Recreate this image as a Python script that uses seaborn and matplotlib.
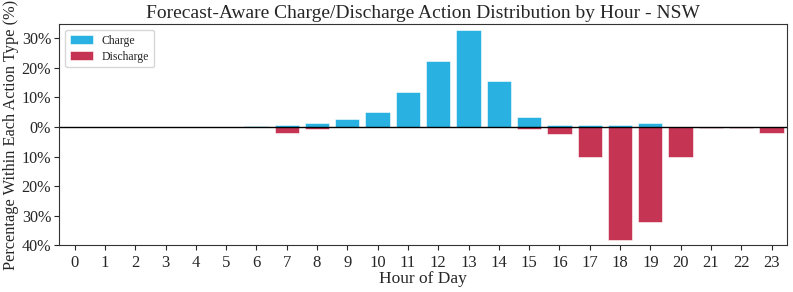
import numpy as np
import pandas as pd
import matplotlib
matplotlib.use("Agg")
import matplotlib.pyplot as plt
import seaborn as sns
from matplotlib.ticker import FuncFormatter

# hourly share (%) of each action type
hours = list(range(24))
charge_pct = [0, 0, 0, 0, 0, 0, 0.4, 0.8, 1.35, 2.7, 5.2, 11.9, 22.3, 32.6,
              15.5, 3.4, 0.8, 0.8, 0.8, 1.45, 0, 0, 0, 0]
discharge_pct = [0, 0, 0, 0, 0, 0, 0, 2.0, 0.6, 0, 0, 0, 0, 0,
                 0, 0.8, 2.5, 10.3, 38.2, 32.3, 10.3, 0.5, 0.5, 2.1]

df = pd.DataFrame({"hour": hours, "charge": charge_pct,
                   "discharge": [-v for v in discharge_pct]})

sns.set_style("ticks")
plt.rcParams["font.family"] = ["Liberation Serif", "DejaVu Serif"]

fig, ax = plt.subplots(figsize=(7.93, 2.92), dpi=100)

sns.barplot(data=df, x="hour", y="charge", color="#22afe0", saturation=1,
            edgecolor="white", linewidth=0.4, alpha=0.97, label="Charge", ax=ax)
sns.barplot(data=df, x="hour", y="discharge", color="#c42d4d", saturation=1,
            edgecolor="white", linewidth=0.4, alpha=0.97, label="Discharge", ax=ax)

ax.axhline(0, color="black", linewidth=1)
ax.set_ylim(-40, 34.8)
ax.set_yticks(np.arange(-40, 31, 10))
ax.yaxis.set_major_formatter(FuncFormatter(lambda v, p: f"{abs(v):.0f}%"))
ax.set_xlim(-0.5, 23.5)

ax.set_title("Forecast-Aware Charge/Discharge Action Distribution by Hour - NSW", fontsize=14, pad=4)
ax.set_xlabel("Hour of Day", fontsize=12.5, labelpad=0)
ax.set_ylabel("Percentage Within Each Action Type (%)", fontsize=11.8)
ax.yaxis.set_label_coords(-0.056, 0.5)
ax.tick_params(labelsize=12)
ax.tick_params(axis="y", labelsize=11.6, pad=2.5)
for s in ax.spines.values():
    s.set_visible(True)
    s.set_color("#333333")

ax.legend(loc="upper left", fontsize=8.5, frameon=True, labelspacing=0.35,
          handlelength=1.9)

fig.subplots_adjust(left=0.075, right=0.992, top=0.918, bottom=0.16)
fig.savefig("out.png", dpi=100)
